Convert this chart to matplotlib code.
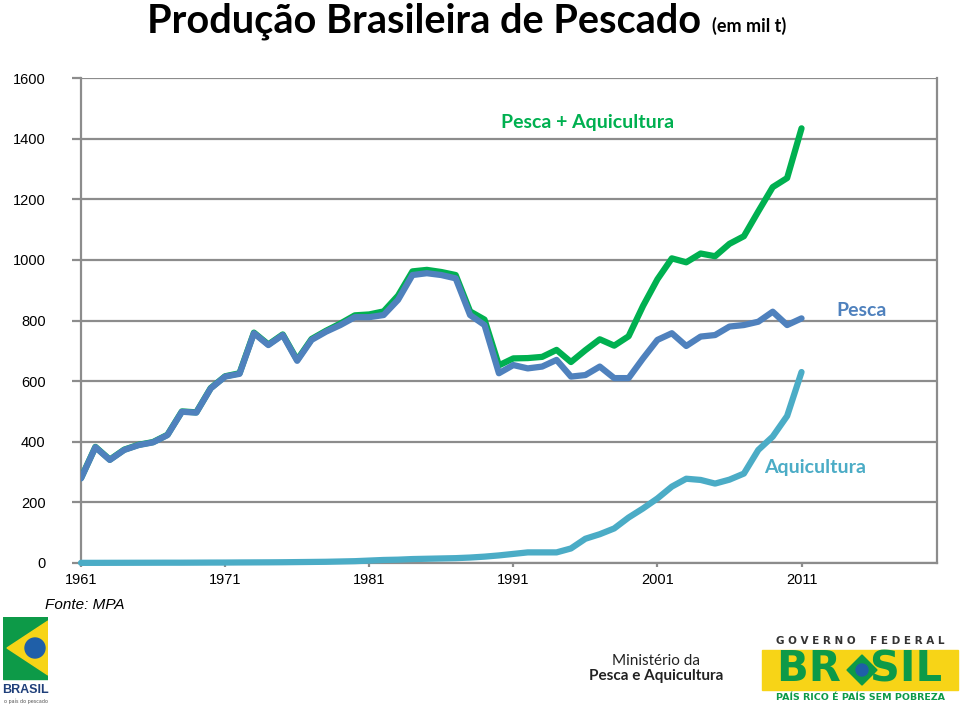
import matplotlib
matplotlib.use('Agg')
from matplotlib import patches
from matplotlib import pyplot as plt

# Produção brasileira de pescado, mil toneladas
ANOS = list(range(1961, 2012))

TOTAL = [
    280, 383, 341, 374, 390, 399, 423, 500, 497, 577,
    616, 626, 760, 721, 754, 670, 739, 766, 790, 817,
    820, 830, 882, 962, 967, 960, 950, 830, 803, 652,
    675, 676, 680, 703, 663, 702, 738, 717, 748, 848,
    936, 1005, 992, 1021, 1012, 1053, 1078, 1160, 1240, 1270,
    1434,
]

PESCA = [
    279, 382, 340, 373, 389, 398, 422, 499, 496, 576,
    615, 624, 758, 719, 752, 667, 736, 763, 785, 811,
    811, 818, 868, 950, 956, 950, 939, 818, 785, 626,
    653, 642, 648, 670, 615, 620, 648, 610, 610, 675,
    736, 758, 716, 747, 752, 780, 785, 796, 829, 785,
    807,
]

AQUICULTURA = [
    0.5, 0.5, 0.6, 0.7, 0.8, 0.9, 1, 1, 1.2, 1.4,
    1.5, 1.8, 2, 2.2, 2.5, 3, 3.5, 4, 5, 6,
    8, 10, 11, 13, 14, 15, 16, 18, 21, 25,
    30, 35, 35, 35, 48, 80, 95, 114, 150, 180,
    213, 252, 278, 274, 262, 275, 295, 373, 417, 485,
    630,
]

Y_TICKS = list(range(0, 1601, 200))
X_TICKS = [1961, 1971, 1981, 1991, 2001, 2011]

VERDE = '#00b050'
AZUL = '#4f81bd'
CIANO = '#4bacc6'
CINZA = '#8c8c8c'

fig = plt.figure(figsize=(9.6, 7.05), dpi=100)
ax = fig.add_axes([81 / 960, 1 - 563 / 705, 856 / 960, 485 / 705])

kw = dict(lw=4.5, solid_joinstyle='round', solid_capstyle='round')
ax.plot(ANOS, TOTAL, color=VERDE, zorder=3, **kw)
ax.plot(ANOS, PESCA, color=AZUL, zorder=4, **kw)
ax.plot(ANOS, AQUICULTURA, color=CIANO, zorder=5, clip_on=False, **kw)

ax.set_xlim(1961, 2020.4)
ax.set_ylim(0, 1600)
ax.set_yticks(Y_TICKS)
ax.set_xticks(X_TICKS)
ax.yaxis.grid(True, color=CINZA, lw=1.6)
ax.set_axisbelow(True)
for lado in ('left', 'right', 'bottom'):
    ax.spines[lado].set_color(CINZA)
    ax.spines[lado].set_linewidth(1.6)
ax.spines['top'].set_visible(False)

ax.tick_params(axis='y', length=6.5, width=1.6, color=CINZA, pad=19,
               labelsize=10.5)
ax.tick_params(axis='x', length=3, width=1.6, color=CINZA, pad=4,
               labelsize=10.5)
for lbl in ax.get_xticklabels() + ax.get_yticklabels():
    lbl.set_family('Liberation Sans')

ax.text(0.4907, 0.909, 'Pesca + Aquicultura', transform=ax.transAxes,
        color=VERDE, family='Lato', weight='bold', fontsize=14,
        va='center', ha='left')
ax.text(0.883, 0.5216, 'Pesca', transform=ax.transAxes,
        color=AZUL, family='Lato', weight='bold', fontsize=14,
        va='center', ha='left')
ax.text(0.798, 0.196, 'Aquicultura', transform=ax.transAxes,
        color=CIANO, family='Lato', weight='bold', fontsize=14,
        va='center', ha='left')

fig.text(147 / 960, 1 - 32 / 705, 'Produção Brasileira de Pescado',
         family='Lato', weight='bold', fontsize=28.5, va='baseline')
fig.text(712 / 960, 1 - 32 / 705, '(em mil t)',
         family='Lato', weight='bold', fontsize=13, va='baseline')
fig.text(45 / 960, 1 - 605 / 705, 'Fonte: MPA', family='Liberation Sans',
         style='italic', fontsize=11, va='center')

# logo "Brasil, o país do pescado"
lg = fig.add_axes([3 / 960, 2 / 705, 45 / 960, 86 / 705])
lg.set_xlim(0, 45)
lg.set_ylim(0, 86)
lg.axis('off')
lg.add_patch(patches.Rectangle((0, 24), 45, 62, color='#0d9a48'))
lg.add_patch(patches.Polygon([(4, 55), (45, 82), (45, 28)], color='#f7d417'))
lg.add_patch(patches.Circle((32, 55), 10, color='#1f5fa8'))
lg.text(22.5, 13, 'BRASIL', ha='center', va='center', color='#1f3f7a',
        family='Liberation Sans', weight='bold', fontsize=9)
lg.text(22.5, 2, 'o país do pescado', ha='center', va='center',
        color='#555555', fontsize=3.5)

# logos do ministério e do governo federal
fig.text(656 / 960, 1 - 661 / 705, 'Ministério da', ha='center',
         va='center', family='Lato', fontsize=11, color='#222222')
fig.text(656 / 960, 1 - 676 / 705, 'Pesca e Aquicultura', ha='center',
         va='center', family='Lato', weight='bold', fontsize=11,
         color='#222222')

gf = fig.add_axes([760 / 960, 0, 200 / 960, 70 / 705])
gf.set_xlim(0, 200)
gf.set_ylim(0, 70)
gf.axis('off')
gf.text(100, 64, 'G O V E R N O    F E D E R A L', ha='center',
        va='center', family='DejaVu Sans', weight='bold', fontsize=7.5,
        color='#333333')
gf.add_patch(patches.Rectangle((2, 15), 196, 40, color='#f7d417'))
gf.text(100, 35, 'BR  SIL', ha='center', va='center', family='DejaVu Sans',
        weight='bold', fontsize=30, color='#0d9a48')
gf.add_patch(patches.Polygon([(87, 35), (102, 50), (117, 35), (102, 20)],
                             color='#0d9a48'))
gf.add_patch(patches.Circle((102, 35), 6, color='#1f5fa8'))
gf.text(100, 8, 'PAÍS RICO É PAÍS SEM POBREZA', ha='center', va='center',
        family='DejaVu Sans', weight='bold', fontsize=6.8, color='#0d9a48')

fig.savefig('out.png', dpi=100)
